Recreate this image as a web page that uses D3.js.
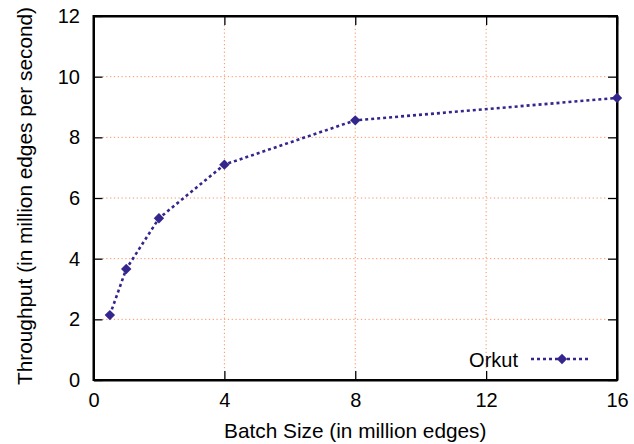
<!DOCTYPE html>
<html>
<head>
<meta charset="utf-8">
<script src="https://cdn.jsdelivr.net/npm/d3@7"></script>
<style>
  body { margin: 0; background: #fff; }
  text { font-family: "Liberation Sans", Arial, Helvetica, sans-serif; fill: #000; }
</style>
</head>
<body>
<svg id="chart" width="634" height="444"></svg>
<script>
const batchSizes = [0.5, 1, 2, 4, 8, 16];
const throughput = [2.14, 3.66, 5.33, 7.1, 8.56, 9.3];
const xTicks = [0, 4, 8, 12, 16];
const yTicks = [0, 2, 4, 6, 8, 10, 12];
const seriesName = "Orkut";
const xTitle = "Batch Size (in million edges)";
const yTitle = "Throughput (in million edges per second)";

const svg = d3.select("#chart");
const pL = 93.5, pR = 617, pT = 16, pB = 380;
const x = d3.scaleLinear().domain([0, 16]).range([pL, pR]);
const y = d3.scaleLinear().domain([0, 12]).range([pB, pT]);
const lineColor = "#34268c";
const gridColor = "#f7905f";
const tickLen = 9;
const fs = "20px";
const tfs = "20.8px";

// grid
const grid = svg.append("g");
xTicks.slice(1, -1).forEach(t => {
  grid.append("line").attr("x1", x(t)).attr("x2", x(t))
    .attr("y1", y(12) + tickLen).attr("y2", y(0) - tickLen)
    .attr("stroke", gridColor).attr("stroke-width", 1).attr("stroke-dasharray", "1.2,2.6");
});
yTicks.slice(1, -1).forEach(t => {
  grid.append("line").attr("x1", x(0) + tickLen).attr("x2", x(16) - tickLen)
    .attr("y1", y(t)).attr("y2", y(t))
    .attr("stroke", gridColor).attr("stroke-width", 1).attr("stroke-dasharray", "1.2,2.6");
});

// axes with inward ticks
const xb = svg.append("g").attr("transform", `translate(0,${pB})`)
  .call(d3.axisBottom(x).tickValues(xTicks).tickSizeInner(-tickLen).tickSizeOuter(0).tickPadding(12.5));
const xt = svg.append("g").attr("transform", `translate(0,${pT})`)
  .call(d3.axisTop(x).tickValues(xTicks).tickSizeInner(-tickLen).tickSizeOuter(0).tickFormat(""));
const yl = svg.append("g").attr("transform", `translate(${pL},0)`)
  .call(d3.axisLeft(y).tickValues(yTicks).tickSizeInner(-tickLen).tickSizeOuter(0).tickPadding(13.5));
const yr = svg.append("g").attr("transform", `translate(${pR},0)`)
  .call(d3.axisRight(y).tickValues(yTicks).tickSizeInner(-tickLen).tickSizeOuter(0).tickFormat(""));
[xb, xt, yl, yr].forEach(g => {
  g.selectAll("path").attr("stroke", "#000").attr("stroke-width", 2);
  g.selectAll("line").attr("stroke", "#000").attr("stroke-width", 1.3);
  g.selectAll("text").style("font-size", fs).style("font-family", "Liberation Sans, Arial, sans-serif").attr("fill", "#000");
});
// frame
svg.append("rect").attr("x", pL).attr("y", pT).attr("width", pR - pL).attr("height", pB - pT)
  .attr("fill", "none").attr("stroke", "#000").attr("stroke-width", 2);

// line
const pts = batchSizes.map((b, i) => [b, throughput[i]]);
svg.append("path").datum(pts)
  .attr("d", d3.line().x(d => x(d[0])).y(d => y(d[1])))
  .attr("fill", "none").attr("stroke", lineColor).attr("stroke-width", 2.6)
  .attr("stroke-dasharray", "3,3");

const diamond = (cx, cy, r) => `M${cx},${cy - r}L${cx + r},${cy}L${cx},${cy + r}L${cx - r},${cy}Z`;
svg.append("g").selectAll("path").data(pts).join("path")
  .attr("d", d => diamond(x(d[0]), y(d[1]), 5.2))
  .attr("fill", lineColor);

// legend
const ly = 359;
svg.append("text").attr("x", 518).attr("y", 367)
  .attr("text-anchor", "end").style("font-size", fs).text(seriesName);
svg.append("line").attr("x1", 531).attr("x2", 590).attr("y1", ly).attr("y2", ly)
  .attr("stroke", lineColor).attr("stroke-width", 2.6).attr("stroke-dasharray", "3,3");
svg.append("path").attr("d", diamond(562, ly, 5.2)).attr("fill", lineColor);

// titles
svg.append("text").attr("x", (pL + pR) / 2).attr("y", 438)
  .attr("text-anchor", "middle").style("font-size", tfs).text(xTitle);
svg.append("text").attr("transform", `translate(31.5,196) rotate(-90)`)
  .attr("text-anchor", "middle").style("font-size", tfs).text(yTitle);
</script>
</body>
</html>
